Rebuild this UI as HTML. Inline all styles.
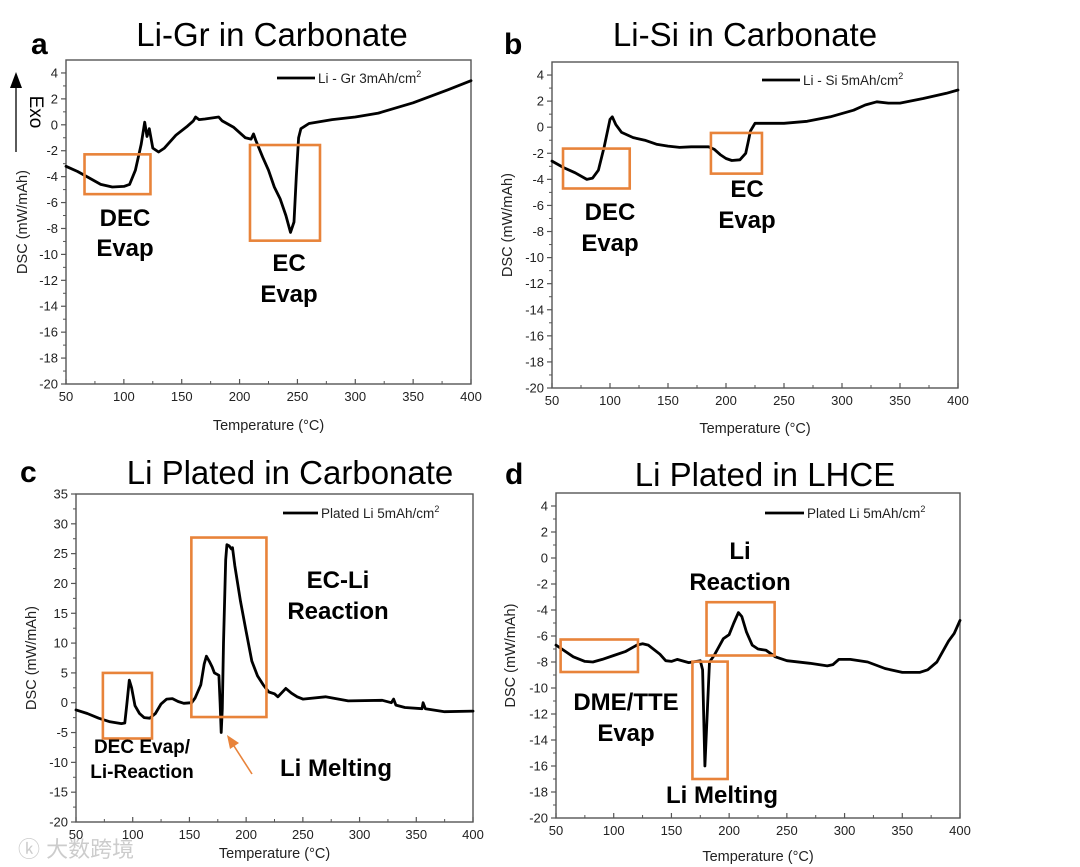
<!DOCTYPE html>
<html><head><meta charset="utf-8">
<style>
html,body{margin:0;padding:0;background:#fff;}
svg{display:block;font-family:"Liberation Sans",Arial,sans-serif;}
</style></head>
<body>
<svg id="fig" width="1080" height="867" viewBox="0 0 1080 867" xmlns="http://www.w3.org/2000/svg">
<g id="static">
  <text x="31" y="54" font-size="30" font-weight="bold">a</text>
  <text x="272" y="46" font-size="33" text-anchor="middle">Li-Gr in Carbonate</text>
  <text x="504" y="54" font-size="30" font-weight="bold">b</text>
  <text x="745" y="46" font-size="33" text-anchor="middle">Li-Si in Carbonate</text>
  <text x="20" y="482" font-size="30" font-weight="bold">c</text>
  <text x="290" y="484" font-size="33" text-anchor="middle">Li Plated in Carbonate</text>
  <text x="505" y="484" font-size="30" font-weight="bold">d</text>
  <text x="765" y="486" font-size="33" text-anchor="middle">Li Plated in LHCE</text>
  <g>
    <line x1="16" y1="152" x2="16" y2="84" stroke="#000" stroke-width="1.3"/>
    <polygon points="10,88 22,88 16,72" fill="#000"/>
    <text x="30" y="112" font-size="19" transform="rotate(90 30 112)" text-anchor="middle">Exo</text>
  </g>
  <text x="18" y="857" font-size="22" fill="#ccc" font-family="'Liberation Sans','Noto Sans CJK SC',sans-serif">ⓚ 大数跨境</text>
</g>
<g id="charts"></g>
</svg>
<script>
// ---- Panel a data ----
const aX = [50,60,70,80,90,100,105,110,115,118,120,122,125,130,135,145,155,160,162,165,170,182,185,195,205,210,212,214,220,225,230,235,240,244,247,249,251,253,260,280,300,320,350,380,400];
const aY = [-3.2,-3.6,-4.1,-4.6,-4.8,-4.75,-4.6,-3.5,-1.5,0.2,-0.9,-0.3,-1.8,-2.1,-1.8,-0.8,-0.1,0.3,0.6,0.4,0.45,0.6,0.3,-0.2,-1.0,-1.1,-0.7,-1.2,-2.5,-3.5,-4.8,-5.7,-7.0,-8.3,-7.5,-4.0,-1.0,-0.3,0.1,0.4,0.6,0.9,1.7,2.7,3.4];
const aTicks = [4,2,0,-2,-4,-6,-8,-10,-12,-14,-16,-18,-20];
// ---- Panel b data ----
const bX = [50,60,70,80,85,90,95,100,102,105,110,120,130,140,150,160,170,185,190,195,200,205,212,217,219,221,225,230,250,270,290,310,320,330,340,350,370,390,400];
const bY = [-2.6,-3.1,-3.5,-4.0,-3.9,-3.3,-1.5,0.6,0.8,0.2,-0.4,-0.8,-1.0,-1.3,-1.45,-1.55,-1.5,-1.5,-1.7,-2.1,-2.4,-2.55,-2.5,-2.0,-1.2,-0.3,0.3,0.3,0.3,0.45,0.8,1.3,1.7,1.95,1.85,1.85,2.2,2.6,2.85];
const bTicks = [4,2,0,-2,-4,-6,-8,-10,-12,-14,-16,-18,-20];
// ---- Panel c data ----
const cX = [50,60,70,80,90,93,95,97,99,102,106,110,115,120,125,130,135,140,145,152,155,160,163,165,168,170,172,176,177,178,179,180,182,183,185,187,188,190,195,200,205,210,215,220,225,228,235,240,245,250,270,290,320,328,330,332,340,355,356,358,375,400];
const cY = [-1.2,-1.8,-2.6,-3.2,-3.5,-3.4,0,3.8,2.5,-0.5,-1.8,-2.5,-2.6,-1.8,-0.2,0.6,0.7,0.2,-0.1,0,0.8,3,6.5,7.8,6.8,6,5,4.6,0,-5,-1,10,24,26.5,26.3,25.8,26,23,17,12,7,4.5,3,1.8,1.5,1,2.4,1.6,1,0.6,1,0.3,0.4,0,0.6,-0.4,-0.8,-1.0,0,-1,-1.5,-1.4];
const cTicks = [35,30,25,20,15,10,5,0,-5,-10,-15,-20];
// ---- Panel d data ----
const dX = [50,55,65,75,82,90,100,110,120,125,130,140,145,150,155,165,175,177,179,181,183,187,195,200,204,208,211,215,220,225,232,240,250,270,285,290,295,305,320,335,350,365,372,380,385,390,395,400];
const dY = [-6.7,-7.0,-7.6,-7.95,-8.0,-7.8,-7.5,-7.2,-6.7,-6.6,-6.7,-7.4,-7.9,-7.95,-7.8,-8.05,-7.9,-8.6,-16,-12,-8,-7.5,-6.2,-5.9,-5.0,-4.2,-4.5,-5.7,-6.7,-7.0,-7.1,-7.6,-7.9,-8.1,-8.3,-8.2,-7.8,-7.8,-8.0,-8.5,-8.8,-8.8,-8.6,-8.0,-7.2,-6.4,-5.8,-4.8];
const dTicks = [4,2,0,-2,-4,-6,-8,-10,-12,-14,-16,-18,-20];
const xTicks = [50,100,150,200,250,300,350,400];

const NS = "http://www.w3.org/2000/svg";
const root = document.getElementById('charts');
function mk(tag, attrs, parent){
  const e = document.createElementNS(NS, tag);
  for (const k in attrs) e.setAttribute(k, attrs[k]);
  (parent||root).appendChild(e); return e;
}

function panel(id, box, yDom, yTicks, minorStep, xs, ys, legend, legendLine, ytitleX, xtitleY){
  const g = mk('g', {});
  
  
  const sx = v => box.l + (v - 50) / 350 * (box.r - box.l);
  const sy = v => box.b - (v - yDom[0]) / (yDom[1] - yDom[0]) * (box.b - box.t);
  const frame = mk('rect', {x:box.l, y:box.t, width:box.r-box.l, height:box.b-box.t, fill:'none', stroke:'#555', 'stroke-width':1.4}, g);
  
  
  // y ticks
  yTicks.forEach((t, i) => {
    const y = sy(t);
    mk('line', {x1:box.l-5, y1:y, x2:box.l, y2:y, stroke:'#555', 'stroke-width':1.2}, g);
    const tx = mk('text', {x:box.l-8, y:y+4.5, 'font-size':13, 'text-anchor':'end', fill:'#222'}, g);
    tx.textContent = t;
    
    
    if (i < yTicks.length - 1) {
      const ym = sy(t - minorStep);
      mk('line', {x1:box.l-3, y1:ym, x2:box.l, y2:ym, stroke:'#555', 'stroke-width':1}, g);
    }
  });
  xTicks.forEach((t, i) => {
    const x = sx(t);
    mk('line', {x1:x, y1:box.b, x2:x, y2:box.b-5, stroke:'#555', 'stroke-width':1.2}, g);
    const tx = mk('text', {x:x, y:box.b+17, 'font-size':13, 'text-anchor':'middle', fill:'#222'}, g);
    tx.textContent = t;
    
    
    if (i < xTicks.length - 1) {
      const xm = sx(t + 25);
      mk('line', {x1:xm, y1:box.b, x2:xm, y2:box.b-3, stroke:'#555', 'stroke-width':1}, g);
    }
  });
  const yt = mk('text', {x:ytitleX, y:(box.t+box.b)/2, 'font-size':14.5, 'text-anchor':'middle', fill:'#222', transform:'rotate(-90 '+ytitleX+' '+((box.t+box.b)/2)+')'}, g);
  yt.textContent = 'DSC (mW/mAh)';
  
  
  const xt = mk('text', {x:(box.l+box.r)/2, y:xtitleY, 'font-size':14.5, 'text-anchor':'middle', fill:'#222'}, g);
  xt.textContent = 'Temperature (°C)';
  
  
  // series
  let d = '';
  xs.forEach((x, i) => { d += (i ? 'L' : 'M') + sx(x).toFixed(1) + ',' + sy(ys[i]).toFixed(1); });
  const p = mk('path', {d:d, fill:'none', stroke:'#000', 'stroke-width':2.8, 'stroke-linejoin':'round', 'stroke-linecap':'round'}, g);
  
  
  // legend
  const lg = mk('g', {}, g);
  
  
  mk('line', {x1:legendLine[0], y1:legendLine[2], x2:legendLine[1], y2:legendLine[2], stroke:'#000', 'stroke-width':2.8}, lg);
  const lt = mk('text', {x:legendLine[1]+3, y:legendLine[2]+5, 'font-size':13.5, fill:'#222'}, lg);
  lt.textContent = legend;
  const sup = mk('tspan', {'font-size':9, dy:-6}, lt);
  sup.textContent = '2';
  return {g, sx, sy};
}

function rectBox(P, x0, x1, y0, y1, name){
  const r = mk('rect', {x:P.sx(x0), y:P.sy(y0), width:P.sx(x1)-P.sx(x0), height:P.sy(y1)-P.sy(y0), fill:'none', stroke:'#E8833A', 'stroke-width':2.6}, P.g);
  
  
}
function label(P, lines, x, y, size, lh, name){
  const t = mk('text', {'font-size':size, 'font-weight':'bold', 'text-anchor':'middle', fill:'#000'}, P.g);
  
  
  lines.forEach((s, i) => {
    const ts = mk('tspan', {x:x, y:y + i*lh}, t);
    ts.textContent = s;
  });
}

const A = panel('a', {l:66,r:471,t:60,b:384}, [-20,5], aTicks, 1, aX, aY, 'Li - Gr 3mAh/cm', [277,315,78], 27, 430);
rectBox(A, 66, 123, -2.28, -5.35, 'dec-evap-box');
rectBox(A, 209, 269.5, -1.56, -8.94, 'ec-evap-box');
label(A, ['DEC','Evap'], 125, 226, 24, 30, 'dec-evap-label');
label(A, ['EC','Evap'], 289, 271, 24, 31, 'ec-evap-label');

const B = panel('b', {l:552,r:958,t:62,b:388}, [-20,5], bTicks, 1, bX, bY, 'Li - Si 5mAh/cm', [762,800,80], 512, 433);
rectBox(B, 59.5, 117, -1.64, -4.7, 'dec-evap-box');
rectBox(B, 187, 231, -0.44, -3.56, 'ec-evap-box');
label(B, ['DEC','Evap'], 610, 220, 24, 31, 'dec-evap-label');
label(B, ['EC','Evap'], 747, 197, 24, 31, 'ec-evap-label');

const C = panel('c', {l:76,r:473,t:494,b:822}, [-20,35], cTicks, 2.5, cX, cY, 'Plated Li 5mAh/cm', [283,318,513], 36, 858);
rectBox(C, 73.7, 117, 5, -6, 'dec-evap-box');
rectBox(C, 151.7, 217.9, 27.7, -2.4, 'ec-li-reaction-box');
label(C, ['EC-Li','Reaction'], 338, 588, 24, 31, 'ec-li-reaction-label');
label(C, ['DEC Evap/','Li-Reaction'], 142, 753, 19, 25, 'dec-evap-li-reaction-label');
label(C, ['Li Melting'], 336, 776, 24, 30, 'li-melting-label');
const ar = mk('g', {}, C.g);


mk('line', {x1:252, y1:774, x2:234, y2:746, stroke:'#E8833A', 'stroke-width':1.6}, ar);
mk('polygon', {points:'227,735 239,743 230,749', fill:'#E8833A'}, ar);

const D = panel('d', {l:556,r:960,t:493,b:818}, [-20,5], dTicks, 1, dX, dY, 'Plated Li 5mAh/cm', [765,804,513], 515, 861);
rectBox(D, 54, 121, -6.27, -8.77, 'dme-tte-evap-box');
rectBox(D, 180.4, 239.4, -3.4, -7.5, 'li-reaction-box');
rectBox(D, 168.2, 198.7, -7.97, -17.0, 'li-melting-box');
label(D, ['Li','Reaction'], 740, 559, 24, 31, 'li-reaction-label');
label(D, ['DME/TTE','Evap'], 626, 710, 24, 31, 'dme-tte-evap-label');
label(D, ['Li Melting'], 722, 803, 24, 30, 'li-melting-label');
</script>
</body></html>
